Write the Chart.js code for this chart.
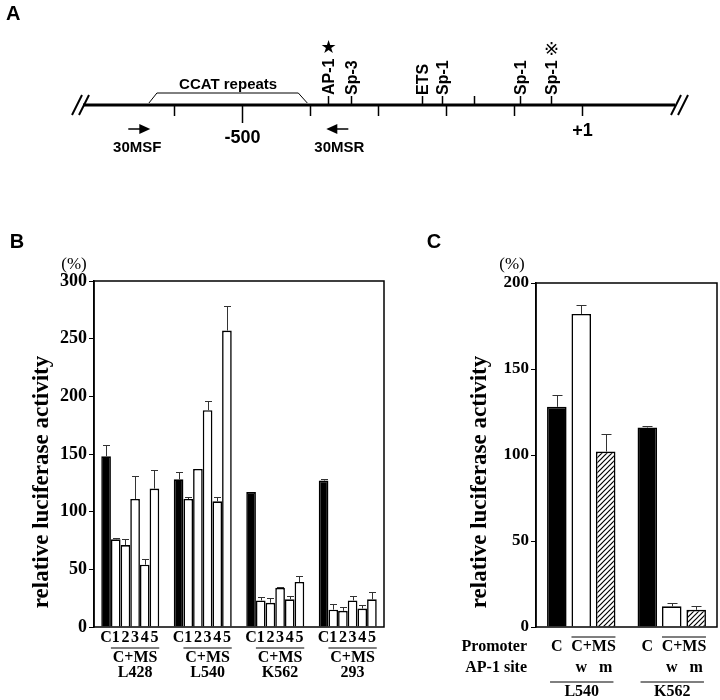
<!DOCTYPE html>
<html>
<head>
<meta charset="utf-8">
<script src="https://cdn.jsdelivr.net/npm/chart.js@4.4.1/dist/chart.umd.min.js"></script>
<style>
  body { margin: 0; background: #fff; }
  #wrap { position: relative; width: 720px; height: 700px; }
  canvas { position: absolute; }
</style>
</head>
<body>
<div id="wrap">
  <canvas id="mapA" width="720" height="180" style="left:0px;top:0px"></canvas>
  <canvas id="chartB" width="400" height="470" style="left:0px;top:230px"></canvas>
  <canvas id="chartC" width="320" height="470" style="left:400px;top:230px"></canvas>
</div>
<script>
// ---- panel A: promoter map, positions in bp relative to +1
const mapRange = [-734, 137];
const scaleTicks = [-600, -500, -400, -300, -200, -100, 0];
const scaleTickLabels = ['', '-500', '', '', '', '', '+1'];
const siteNames = ['AP-1', 'Sp-3', 'ETS', 'Sp-1', '', 'Sp-1', 'Sp-1'];
const sitePos = [-373, -340, -235, -206, -159, -91, -46];
const siteMarks = ['★', '', '', '', '', '', '※'];
const ccatRange = [-637, -404];
const primerNames = ['30MSF', '30MSR'];
const primerPos = [-635, -376];
const primerDir = [1, -1];

// ---- panel B: relative luciferase activity (%)
const cellLinesB = ['L428', 'L540', 'K562', '293'];
const seriesB = ['C', '1', '2', '3', '4', '5'];
const yTicksB = [0, 50, 100, 150, 200, 250, 300];
const actC = [148, 128, 117, 127];
const actMS1 = [76, 111, 23, 15];
const actMS2 = [71, 137, 21, 14];
const actMS3 = [111, 188, 34, 23];
const actMS4 = [54, 109, 24, 16];
const actMS5 = [120, 257, 39, 24];
const errC = [10, 6, 0, 1];
const errMS1 = [1, 2, 3, 5];
const errMS2 = [5, 0, 4, 3];
const errMS3 = [20, 8, 1, 4];
const errMS4 = [5, 4, 3, 3];
const errMS5 = [16, 21, 5, 6];

// ---- panel C: AP-1 site wild / mutant
const cellLinesC = ['L540', 'K562'];
const yTicksC = [0, 50, 100, 150, 200];
const promC = [128, 116];
const msWild = [182, 12];
const msMut = [102, 10];
const errPromC = [7, 1];
const errMsWild = [5, 2];
const errMsMut = [10, 2];

const SERIF = '"Liberation Serif", "Times New Roman", serif';
const SANS = '"Liberation Sans", Arial, sans-serif';
Chart.defaults.color = '#000';

// error bars: upward whisker with cap
const errorBars = {
  id: 'errorBars',
  afterDatasetsDraw(chart, args, opts) {
    const ctx = chart.ctx, y = chart.scales.y;
    ctx.save();
    ctx.strokeStyle = '#333';
    ctx.lineWidth = 1;
    chart.data.datasets.forEach((ds, i) => {
      chart.getDatasetMeta(i).data.forEach((bar, j) => {
        const e = ds.errors[j];
        if (!e) return;
        const top = Math.round(y.getPixelForValue(ds.data[j] + e)) + 0.5;
        const x = Math.round(bar.x) + 0.5;
        ctx.beginPath();
        ctx.moveTo(x, bar.y);
        ctx.lineTo(x, top);
        ctx.moveTo(x - opts.cap, top);
        ctx.lineTo(x + opts.cap, top);
        ctx.stroke();
      });
    });
    ctx.restore();
  }
};

// box round the plot area + side texts
const frame = {
  id: 'frame',
  afterDraw(chart, args, opts) {
    const ctx = chart.ctx, a = chart.chartArea;
    ctx.save();
    ctx.strokeStyle = '#000';
    ctx.lineWidth = 1.5;
    ctx.strokeRect(a.left, a.top, a.right - a.left, a.bottom - a.top);
    ctx.fillStyle = '#000';
    ctx.textAlign = 'center';
    ctx.textBaseline = 'middle';
    ctx.font = 'bold 20px ' + SANS;
    ctx.fillText(opts.panel, opts.panelX, 12);
    ctx.font = '17px ' + SERIF;
    ctx.fillText('(%)', opts.pctX, 35);
    ctx.translate(opts.titleX, 252);
    ctx.rotate(-Math.PI / 2);
    ctx.font = 'bold 23px ' + SERIF;
    ctx.fillText('relative luciferase activity', 0, 0);
    ctx.restore();
  }
};

function hline(ctx, x1, x2, y) {
  ctx.beginPath();
  ctx.moveTo(x1, y);
  ctx.lineTo(x2, y);
  ctx.stroke();
}

const labelsB = {
  id: 'labelsB',
  afterDraw(chart) {
    const ctx = chart.ctx, b = chart.chartArea.bottom;
    ctx.save();
    ctx.fillStyle = '#000';
    ctx.strokeStyle = '#000';
    ctx.lineWidth = 1.2;
    ctx.textAlign = 'center';
    ctx.textBaseline = 'middle';
    ctx.font = 'bold 16px ' + SERIF;
    cellLinesB.forEach((name, j) => {
      seriesB.forEach((s, i) => {
        const bar = chart.getDatasetMeta(i).data[j];
        ctx.fillText(s, bar.x, b + 11);
      });
      const b1 = chart.getDatasetMeta(1).data[j], b5 = chart.getDatasetMeta(5).data[j];
      const l = b1.x - b1.width / 2, r = b5.x + b5.width / 2;
      hline(ctx, l, r, b + 21);
      ctx.fillText('C+MS', (l + r) / 2, b + 31);
      ctx.fillText(name, (l + r) / 2, b + 46);
    });
    ctx.restore();
  }
};

const labelsC = {
  id: 'labelsC',
  afterDraw(chart) {
    const ctx = chart.ctx, b = chart.chartArea.bottom;
    ctx.save();
    ctx.fillStyle = '#000';
    ctx.strokeStyle = '#000';
    ctx.lineWidth = 1.2;
    ctx.textBaseline = 'middle';
    ctx.font = 'bold 16px ' + SERIF;
    ctx.textAlign = 'right';
    ctx.fillText('Promoter', chart.chartArea.left - 9, b + 20);
    ctx.fillText('AP-1 site', chart.chartArea.left - 9, b + 41);
    ctx.textAlign = 'center';
    cellLinesC.forEach((name, j) => {
      const bc = chart.getDatasetMeta(0).data[j];
      const bw = chart.getDatasetMeta(1).data[j];
      const bm = chart.getDatasetMeta(2).data[j];
      ctx.fillText('C', bc.x, b + 20);
      const l = bw.x - bw.width / 2, r = bm.x + bm.width / 2;
      hline(ctx, l, r, b + 10);
      ctx.fillText('C+MS', (l + r) / 2, b + 20);
      ctx.fillText('w', bw.x, b + 41);
      ctx.fillText('m', bm.x, b + 41);
      const gl = bc.x - bc.width / 2 + 3, gr = r - 2;
      hline(ctx, gl, gr, b + 55);
      ctx.fillText(name, (gl + gr) / 2, b + 65);
    });
    ctx.restore();
  }
};

const promoterMap = {
  id: 'promoterMap',
  afterDraw(chart) {
    const ctx = chart.ctx, x = chart.scales.x, a = chart.chartArea;
    const ly = 105;
    ctx.save();
    ctx.strokeStyle = '#000';
    ctx.fillStyle = '#000';
    // panel letter
    ctx.font = 'bold 20px ' + SANS;
    ctx.textAlign = 'left';
    ctx.textBaseline = 'middle';
    ctx.fillText('A', 6, 14);
    // main line
    ctx.lineWidth = 3;
    hline(ctx, a.left, a.right, ly);
    // break marks
    ctx.lineWidth = 2;
    [[a.left - 6, a.left + 1], [a.right + 1, a.right + 8]].forEach(pair => {
      pair.forEach(c => {
        ctx.beginPath();
        ctx.moveTo(c - 5, ly + 10);
        ctx.lineTo(c + 5, ly - 10);
        ctx.stroke();
      });
    });
    // scale ticks below the line
    ctx.lineWidth = 1.5;
    ctx.font = 'bold 18px ' + SANS;
    ctx.textAlign = 'center';
    scaleTicks.forEach((v, i) => {
      const px = Math.round(x.getPixelForValue(v)) + 0.5;
      const len = scaleTickLabels[i] === '-500' ? 18 : 11;
      ctx.beginPath();
      ctx.moveTo(px, ly);
      ctx.lineTo(px, ly + len);
      ctx.stroke();
      if (scaleTickLabels[i]) ctx.fillText(scaleTickLabels[i], px, ly + len + 15);
    });
    // binding sites above the line
    sitePos.forEach((v, i) => {
      const px = Math.round(x.getPixelForValue(v)) + 0.5;
      ctx.beginPath();
      ctx.moveTo(px, ly);
      ctx.lineTo(px, ly - 9);
      ctx.stroke();
      if (!siteNames[i]) return;
      ctx.save();
      ctx.translate(px, ly - 10);
      ctx.rotate(-Math.PI / 2);
      ctx.textAlign = 'left';
      ctx.textBaseline = 'middle';
      ctx.font = 'bold 16px ' + SANS;
      const w = ctx.measureText(siteNames[i]).width;
      ctx.fillText(siteNames[i], 0, 1);
      ctx.restore();
      if (siteMarks[i]) {
        ctx.save();
        ctx.textAlign = 'center';
        ctx.textBaseline = 'middle';
        ctx.font = '18px "DejaVu Sans", "Noto Sans CJK JP", sans-serif';
        ctx.fillText(siteMarks[i], px, ly - 10 - w - 10);
        ctx.restore();
      }
    });
    // CCAT repeats bracket
    const c0 = x.getPixelForValue(ccatRange[0]), c1 = x.getPixelForValue(ccatRange[1]);
    ctx.lineWidth = 1;
    ctx.beginPath();
    ctx.moveTo(c0, ly - 2);
    ctx.lineTo(c0 + 8, ly - 12);
    ctx.lineTo(c1 - 9, ly - 12);
    ctx.lineTo(c1, ly - 2);
    ctx.stroke();
    ctx.font = 'bold 15px ' + SANS;
    ctx.textAlign = 'center';
    ctx.fillText('CCAT repeats', (c0 + c1) / 2, ly - 20);
    // primers
    primerPos.forEach((v, i) => {
      const tip = x.getPixelForValue(v), d = primerDir[i], ay = 129;
      ctx.lineWidth = 1.5;
      hline(ctx, tip - d * 22, tip - d * 9, ay);
      ctx.beginPath();
      ctx.moveTo(tip, ay);
      ctx.lineTo(tip - d * 11, ay - 5);
      ctx.lineTo(tip - d * 11, ay + 5);
      ctx.closePath();
      ctx.fill();
      ctx.font = 'bold 15px ' + SANS;
      ctx.fillText(primerNames[i], tip - d * 13, 148);
    });
    ctx.restore();
  }
};

new Chart(document.getElementById('mapA'), {
  type: 'scatter',
  data: { datasets: [{ data: [] }] },
  options: {
    responsive: false,
    animation: false,
    layout: { padding: { left: 83, right: 45, top: 0, bottom: 0 } },
    scales: {
      x: { type: 'linear', min: mapRange[0], max: mapRange[1], display: false },
      y: { min: 0, max: 1, display: false }
    },
    plugins: { legend: { display: false }, tooltip: { enabled: false } }
  },
  plugins: [promoterMap]
});

const black = { backgroundColor: '#000', borderColor: '#000', borderWidth: 1.6 };
const white = { backgroundColor: '#fff', borderColor: '#000', borderWidth: 1.6 };

function yAxis(ticks, width, size) {
  return {
    min: ticks[0],
    max: ticks[ticks.length - 1],
    afterBuildTicks: s => { s.ticks = ticks.map(v => ({ value: v })); },
    afterFit: s => { s.width = width; },
    grid: { drawOnChartArea: false, tickLength: 5, color: '#000' },
    border: { color: '#000', width: 1.5 },
    ticks: { color: '#000', padding: 2, font: { family: SERIF, size: size, weight: 'bold' } }
  };
}
const xAxis = {
  grid: { display: false },
  border: { display: false },
  ticks: { display: false },
  afterFit: s => { s.height = 73; }
};

new Chart(document.getElementById('chartB'), {
  type: 'bar',
  data: {
    labels: cellLinesB,
    datasets: [
      { label: seriesB[0], data: actC, errors: errC, ...black },
      { label: seriesB[1], data: actMS1, errors: errMS1, ...white },
      { label: seriesB[2], data: actMS2, errors: errMS2, ...white },
      { label: seriesB[3], data: actMS3, errors: errMS3, ...white },
      { label: seriesB[4], data: actMS4, errors: errMS4, ...white },
      { label: seriesB[5], data: actMS5, errors: errMS5, ...white }
    ]
  },
  options: {
    responsive: false,
    animation: false,
    layout: { padding: { left: 0, right: 16, top: 51, bottom: 0 } },
    datasets: { bar: { categoryPercentage: 0.8, barPercentage: 1 } },
    scales: { x: xAxis, y: yAxis(yTicksB, 94, 18) },
    plugins: {
      legend: { display: false },
      tooltip: { enabled: false },
      errorBars: { cap: 3.5 },
      frame: { panel: 'B', panelX: 17, pctX: 74, titleX: 42 }
    }
  },
  plugins: [errorBars, frame, labelsB]
});

// diagonal hatch for the mutant construct
const hatchTile = document.createElement('canvas');
hatchTile.width = 5; hatchTile.height = 5;
const ht = hatchTile.getContext('2d');
ht.fillStyle = '#fff';
ht.fillRect(0, 0, 5, 5);
ht.strokeStyle = '#000';
ht.lineWidth = 1.2;
ht.beginPath();
ht.moveTo(0, 5); ht.lineTo(5, 0);
ht.moveTo(-1, 1); ht.lineTo(1, -1);
ht.moveTo(4, 6); ht.lineTo(6, 4);
ht.stroke();
const ctxC = document.getElementById('chartC').getContext('2d');
const hatch = ctxC.createPattern(hatchTile, 'repeat');

new Chart(ctxC, {
  type: 'bar',
  data: {
    labels: cellLinesC,
    datasets: [
      { label: 'C', data: promC, errors: errPromC, ...black },
      { label: 'w', data: msWild, errors: errMsWild, ...white },
      { label: 'm', data: msMut, errors: errMsMut, backgroundColor: hatch, borderColor: '#000', borderWidth: 1.6 }
    ]
  },
  options: {
    responsive: false,
    animation: false,
    layout: { padding: { left: 0, right: 3, top: 53, bottom: 0 } },
    datasets: { bar: { categoryPercentage: 0.81, barPercentage: 0.8 } },
    scales: { x: xAxis, y: yAxis(yTicksC, 136, 17) },
    plugins: {
      legend: { display: false },
      tooltip: { enabled: false },
      errorBars: { cap: 5 },
      frame: { panel: 'C', panelX: 34, pctX: 112, titleX: 80 }
    }
  },
  plugins: [errorBars, frame, labelsC]
});
</script>
</body>
</html>
